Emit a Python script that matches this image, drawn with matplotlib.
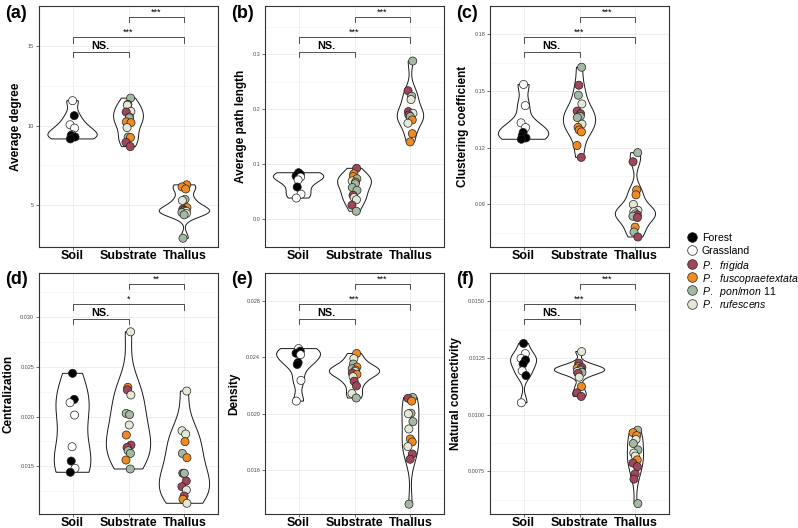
import numpy as np
import matplotlib
matplotlib.use('Agg')
import matplotlib.pyplot as plt
from matplotlib.ticker import FormatStrFormatter

plt.rcParams['font.family'] = ['Liberation Sans', 'DejaVu Sans']
plt.rcParams['mathtext.fontset'] = 'custom'
plt.rcParams['mathtext.rm'] = 'Liberation Sans'
plt.rcParams['mathtext.it'] = 'Liberation Sans:italic'

groups = ['Soil', 'Substrate', 'Thallus']

# B Forest, W Grassland, F P. frigida, O P. fuscopraetextata, G P. pon/mon 11, L P. rufescens
colors = {'B': '#000000', 'W': '#FFFFFF', 'F': '#A0455A', 'O': '#F28A22',
          'G': '#A4B9A2', 'L': '#E4E9D6'}
legend_codes = ['B', 'W', 'F', 'O', 'G', 'L']
legend_text = ['Forest', 'Grassland', r'$\mathit{P.\ \ frigida}$',
               r'$\mathit{P.\ \ fuscopraetextata}$', r'$\mathit{P.\ \ pon/mon}$ 11',
               r'$\mathit{P.\ \ rufescens}$']

# (a) average degree
a_soil = [(11.56, 'W'), (10.62, 'B'), (10.05, 'W'), (9.84, 'W'), (9.43, 'W'), (9.38, 'B'), (9.28, 'B'), (9.16, 'B')]
a_substrate = [(11.72, 'G'), (11.33, 'F'), (11.28, 'L'), (10.89, 'L'), (10.85, 'F'), (10.53, 'G'), (10.48, 'G'),
               (10.23, 'O'), (10.18, 'O'), (9.87, 'L'), (9.28, 'G'), (9.25, 'O'), (8.95, 'F'), (8.68, 'F')]
a_thallus = [(6.28, 'O'), (6.15, 'O'), (6.02, 'O'), (5.37, 'G'), (5.30, 'L'), (4.85, 'O'), (4.75, 'F'), (4.68, 'F'),
             (4.62, 'L'), (4.55, 'G'), (4.48, 'L'), (4.40, 'G'), (2.93, 'G')]

# (b) average path length
b_soil = [(0.085, 'B'), (0.082, 'B'), (0.079, 'B'), (0.077, 'W'), (0.072, 'W'), (0.059, 'B'), (0.046, 'W'), (0.039, 'W')]
b_substrate = [(0.093, 'F'), (0.083, 'O'), (0.078, 'O'), (0.074, 'G'), (0.070, 'L'), (0.068, 'O'), (0.065, 'G'),
               (0.058, 'G'), (0.053, 'G'), (0.044, 'F'), (0.040, 'L'), (0.036, 'L'), (0.026, 'F'), (0.015, 'G')]
b_thallus = [(0.288, 'G'), (0.234, 'F'), (0.224, 'G'), (0.218, 'L'), (0.196, 'F'), (0.193, 'L'), (0.190, 'F'),
             (0.187, 'G'), (0.181, 'O'), (0.175, 'L'), (0.156, 'O'), (0.141, 'O')]

# (c) clustering coefficient
c_soil = [(0.1535, 'W'), (0.1423, 'W'), (0.1332, 'W'), (0.1307, 'W'), (0.1281, 'B'), (0.1263, 'B'), (0.1252, 'B'), (0.1245, 'B')]
c_substrate = [(0.1626, 'G'), (0.1531, 'F'), (0.1478, 'G'), (0.1432, 'L'), (0.1394, 'F'), (0.1380, 'F'), (0.1366, 'G'),
               (0.1360, 'G'), (0.1325, 'L'), (0.1308, 'O'), (0.1294, 'O'), (0.1284, 'O'), (0.1212, 'O'), (0.1149, 'F')]
c_thallus = [(0.1174, 'G'), (0.1126, 'F'), (0.0977, 'O'), (0.0951, 'O'), (0.0900, 'L'), (0.0869, 'L'), (0.0862, 'L'),
             (0.0850, 'L'), (0.0845, 'F'), (0.0838, 'G'), (0.0831, 'F'), (0.0780, 'O'), (0.0754, 'G'), (0.0728, 'F')]

# (d) centralization
d_soil = [(0.02436, 'B'), (0.02174, 'B'), (0.0214, 'W'), (0.02016, 'W'), (0.01697, 'W'), (0.01553, 'B'), (0.0148, 'W'), (0.0144, 'B')]
d_substrate = [(0.02854, 'L'), (0.02295, 'O'), (0.0227, 'F'), (0.02218, 'L'), (0.02033, 'G'), (0.0202, 'G'), (0.01916, 'L'),
               (0.01815, 'O'), (0.01714, 'F'), (0.0169, 'F'), (0.01657, 'G'), (0.0163, 'G'), (0.01563, 'O'), (0.01473, 'G')]
d_thallus = [(0.02258, 'L'), (0.01858, 'L'), (0.01825, 'L'), (0.01748, 'O'), (0.0163, 'G'), (0.01587, 'O'), (0.0143, 'F'),
             (0.0143, 'G'), (0.01352, 'F'), (0.01295, 'F'), (0.01262, 'L'), (0.01201, 'F'), (0.01168, 'O'), (0.01128, 'L')]

# (e) density
e_soil = [(0.02463, 'W'), (0.02445, 'B'), (0.02430, 'B'), (0.0242, 'W'), (0.02364, 'B'), (0.0235, 'B'), (0.02237, 'W'), (0.0209, 'W')]
e_substrate = [(0.02428, 'O'), (0.02392, 'L'), (0.02353, 'G'), (0.02332, 'O'), (0.0232, 'G'), (0.0231, 'G'), (0.0230, 'L'),
               (0.02289, 'F'), (0.0228, 'O'), (0.02263, 'L'), (0.02231, 'F'), (0.02198, 'F'), (0.02144, 'L'), (0.02112, 'G')]
e_thallus = [(0.02116, 'G'), (0.0211, 'F'), (0.0209, 'O'), (0.02004, 'G'), (0.0200, 'L'), (0.01944, 'G'), (0.01892, 'L'),
             (0.01821, 'O'), (0.0180, 'O'), (0.01767, 'L'), (0.01714, 'F'), (0.01677, 'F'), (0.01358, 'G')]

# (f) natural connectivity
f_soil = [(0.01314, 'B'), (0.01269, 'W'), (0.01248, 'W'), (0.01241, 'B'), (0.01224, 'B'), (0.01193, 'W'), (0.01172, 'B'), (0.01052, 'W')]
f_substrate = [(0.01278, 'L'), (0.01227, 'F'), (0.01213, 'O'), (0.01208, 'F'), (0.01205, 'O'), (0.0120, 'G'),
               (0.01195, 'G'), (0.0119, 'L'), (0.01186, 'G'), (0.01182, 'F'), (0.01165, 'L'), (0.01124, 'O'),
               (0.01096, 'F'), (0.0108, 'F')]
f_thallus = [(0.00931, 'G'), (0.0092, 'O'), (0.00907, 'O'), (0.0089, 'L'), (0.00872, 'G'), (0.00844, 'G'), (0.0083, 'L'),
             (0.00817, 'L'), (0.0080, 'O'), (0.00786, 'F'), (0.0077, 'F'), (0.00738, 'F'), (0.00715, 'F'), (0.00607, 'G')]

panels = [
    ('(a)', 'Average degree', [a_soil, a_substrate, a_thallus], (2.38, 15.27), [5, 10, 15], '%g', ['NS.', '***', '***']),
    ('(b)', 'Average path length', [b_soil, b_substrate, b_thallus], (-0.001, 0.388), [0, 0.1, 0.2, 0.3], '%.1f', ['NS.', '***', '***']),
    ('(c)', 'Clustering coefficient', [c_soil, c_substrate, c_thallus], (0.0675, 0.1915), [0.09, 0.12, 0.15, 0.18], '%.2f', ['NS.', '***', '***']),
    ('(d)', 'Centralization', [d_soil, d_substrate, d_thallus], (0.0102, 0.03446), [0.015, 0.02, 0.025, 0.03], '%.3f', ['NS.', '*', '**']),
    ('(e)', 'Density', [e_soil, e_substrate, e_thallus], (0.01288, 0.02845), [0.016, 0.02, 0.024, 0.028], '%.3f', ['NS.', '***', '***']),
    ('(f)', 'Natural connectivity', [f_soil, f_substrate, f_thallus], (0.00561, 0.01559), [0.0075, 0.01, 0.0125, 0.015], '%.4f', ['NS.', '***', '***']),
]

W, H = 798, 528
fig = plt.figure(figsize=(W / 100, H / 100), dpi=100)
lefts = [39, 265, 490]
tops = [6, 273]
pw, ph = 179, 241


def kde(vals, grid):
    v = np.asarray(vals)
    sd = v.std(ddof=1)
    iqr = np.percentile(v, 75) - np.percentile(v, 25)
    lo = min(sd, iqr / 1.34) if iqr > 0 else sd
    bw = 0.9 * lo * len(v) ** -0.2
    z = (grid[:, None] - v[None, :]) / bw
    return np.exp(-0.5 * z ** 2).sum(axis=1) / (len(v) * bw * np.sqrt(2 * np.pi))


for i, (tag, ylab, data, ylim, ticks, fmt, sig) in enumerate(panels):
    l = lefts[i % 3]
    t = tops[i // 3]
    ax = fig.add_axes([l / W, 1 - (t + ph) / H, pw / W, ph / H])

    grids, dens = [], []
    for grp in data:
        vals = [v for v, c in grp]
        g = np.linspace(min(vals), max(vals), 512)
        grids.append(g)
        dens.append(kde(vals, g))
    dmax = max(d.max() for d in dens)

    for k, grp in enumerate(data):
        pos = k + 1
        half = 0.45 * dens[k] / dmax
        xs = np.concatenate([pos - half, (pos + half)[::-1]])
        ys = np.concatenate([grids[k], grids[k][::-1]])
        ax.fill(xs, ys, facecolor='white', edgecolor='#1a1a1a', lw=0.7, zorder=2)
        vals = np.array([v for v, c in grp])
        cols = [colors[c] for v, c in grp]
        jit = 0.045 * np.sin(np.arange(len(vals)) * 2.4 + k)
        ax.scatter(pos + jit, vals, s=34, c=cols, edgecolors='#222222', linewidths=0.5, zorder=3)

    ax.set_xlim(0.4, 3.6)
    ax.set_ylim(*ylim)
    ax.set_xticks([1, 2, 3])
    ax.set_xticklabels(groups, fontsize=9, fontweight='bold', color='black')
    ax.set_yticks(ticks)
    step = ticks[1] - ticks[0]
    minor = [ticks[0] - step / 2] + [tk + step / 2 for tk in ticks]
    ax.set_yticks(minor, minor=True)
    ax.yaxis.set_major_formatter(FormatStrFormatter(fmt))
    ax.tick_params(axis='y', which='major', labelsize=4, colors='#333333', labelcolor='#4d4d4d',
                   length=2, width=0.5, pad=1.5)
    ax.tick_params(axis='y', which='minor', length=0)
    ax.tick_params(axis='x', length=2, width=0.5, pad=0.5, colors='#333333', labelcolor='black')
    ax.grid(True, which='major', color='#ebebeb', lw=0.6, zorder=0)
    ax.grid(True, which='minor', axis='y', color='#f2f2f2', lw=0.4, zorder=0)
    ax.set_axisbelow(True)
    for s in ax.spines.values():
        s.set_color('#333333')
        s.set_linewidth(0.8)
    ax.set_ylabel(ylab, fontsize=8.5, fontweight='bold', labelpad=4)

    # significance brackets
    tr = ax.get_xaxis_transform()
    for (x0, x1), yb, txt in zip([(1, 2), (1, 3), (2, 3)], [0.81, 0.87, 0.954], sig):
        ax.plot([x0, x0, x1, x1], [yb - 0.022, yb, yb, yb - 0.022], color='#333333', lw=0.6,
                transform=tr, clip_on=False, zorder=4)
        if txt == 'NS.':
            ax.text((x0 + x1) / 2, yb + 0.003, txt, transform=tr, ha='center', va='bottom',
                    fontsize=7.8, fontweight='bold')
        else:
            ax.text((x0 + x1) / 2, yb + 0.002, txt, transform=tr, ha='center', va='bottom', fontsize=6.5)

    fig.text((l - 34) / W, 1 - (t + 7) / H, tag, fontsize=13, fontweight='bold', ha='left', va='center')

# legend drawn by hand in pixel coordinates
lax = fig.add_axes([0, 0, 1, 1], facecolor='none')
lax.set_xlim(0, W)
lax.set_ylim(H, 0)
lax.axis('off')
for j, (code, txt) in enumerate(zip(legend_codes, legend_text)):
    y = 237 + 13.3 * j
    lax.scatter([692], [y], s=48, c=colors[code], edgecolors='#222222', linewidths=0.5)
    lax.text(702, y, txt, fontsize=7.6, ha='left', va='center_baseline')

fig.savefig('out.png', dpi=100)
